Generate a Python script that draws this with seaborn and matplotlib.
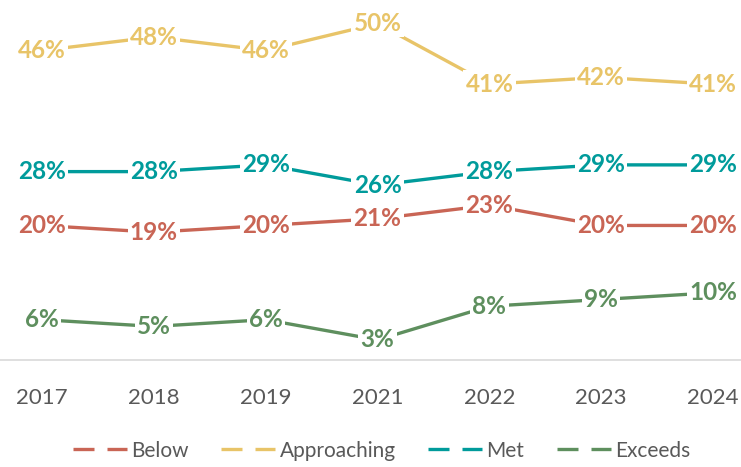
import pandas as pd
import matplotlib.pyplot as plt
import seaborn as sns
from matplotlib.lines import Line2D

years = ['2017', '2018', '2019', '2021', '2022', '2023', '2024']
below = [20, 19, 20, 21, 23, 20, 20]
approaching = [46, 48, 46, 50, 41, 42, 41]
met = [28, 28, 29, 26, 28, 29, 29]
exceeds = [6, 5, 6, 3, 8, 9, 10]

series = ['Below', 'Approaching', 'Met', 'Exceeds']
colors = ['#C96555', '#E8C468', '#009B9B', '#5E8F5E']

df = pd.DataFrame({
    'pos': list(range(len(years))) * 4,
    'value': below + approaching + met + exceeds,
    'group': [s for s in series for _ in years],
})

sns.set_style('white')
plt.rcParams['font.family'] = ['Lato', 'DejaVu Sans']

fig = plt.figure(figsize=(7.41, 4.67), dpi=100)
ax = fig.add_axes([0, 0.229, 1, 0.771])

sns.lineplot(data=df, x='pos', y='value', hue='group', palette=colors,
             hue_order=series, linewidth=2.4, ax=ax, legend=False, zorder=2)

# data labels sitting on the points with white boxes
for s, c in zip(series, colors):
    sub = df[df.group == s]
    for x, v in zip(sub.pos, sub.value):
        ax.text(x, v, f'{v}%', color=c, fontsize=17.5, fontweight='bold',
                ha='center', va='center', zorder=5,
                bbox=dict(facecolor='white', edgecolor='none', pad=1.5))

ax.set_xlim(-0.376, 6.25)
ax.set_ylim(0, 53.5)
ax.set_xticks(range(len(years)))
ax.set_xticklabels(years, fontsize=16, color='#595959')
ax.tick_params(axis='x', length=0, pad=20)
ax.set_yticks([])
ax.set_xlabel('')
ax.set_ylabel('')
for sp in ['top', 'left', 'right']:
    ax.spines[sp].set_visible(False)
ax.spines['bottom'].set_color('#D9D9D9')
ax.spines['bottom'].set_linewidth(1.2)
ax.spines['bottom'].set_zorder(1)

handles = [Line2D([0], [0], color=c, lw=2.4, linestyle=(0, (6.3, 3.9)))
           for c in colors]
fig.legend(handles, series, loc='center', bbox_to_anchor=(0.515, 0.035),
           ncol=4, frameon=False, fontsize=15, handlelength=2.6,
           handletextpad=0.2, columnspacing=1.55, labelcolor='#595959')

fig.savefig('out.png', dpi=100)
